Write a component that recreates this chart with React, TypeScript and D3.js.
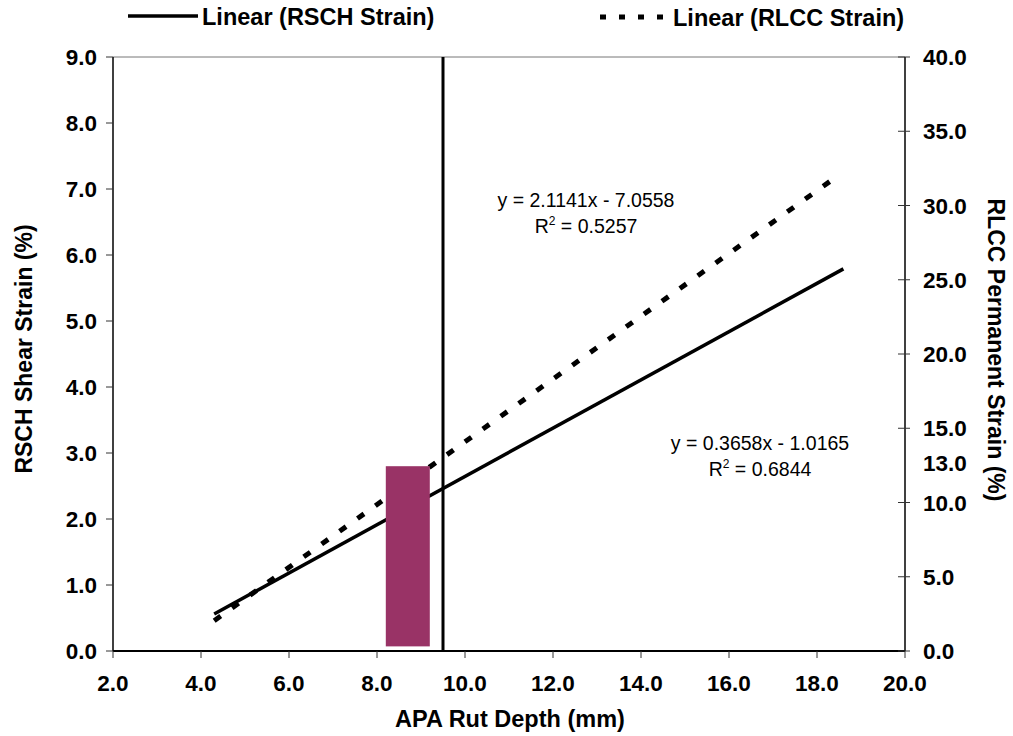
import React from "react";
import * as d3 from "d3";

const W = 1013;
const H = 736;

// Axis domains
const xDomain = [2, 20];
const leftDomain = [0, 9];
const rightDomain = [0, 40];

// Tick values
const xTicks = [2, 4, 6, 8, 10, 12, 14, 16, 18, 20];
const leftTicks = [0, 1, 2, 3, 4, 5, 6, 7, 8, 9];
const rightTicks = [0, 5, 10, 15, 20, 25, 30, 35, 40];
const rightExtraLabels = [13];

// Trend lines (endpoints)
const rschX = [4.3, 18.6];
const rschY = [0.56, 5.79];
const rlccX = [4.3, 18.35];
const rlccY = [2.04, 31.74];

// Reference marks
const vLineX = [9.5];
const barX0 = [8.2];
const barX1 = [9.2];
const barY0 = [0.07];
const barY1 = [2.8];

const eqLabels = [
  { eq: "y = 2.1141x - 7.0558", r2: "0.5257" },
  { eq: "y = 0.3658x - 1.0165", r2: "0.6844" },
];

const legendItems = ["Linear (RSCH Strain)", "Linear (RLCC Strain)"];

const PL = 113, PR = 905, PT = 57, PB = 651;

export default function App() {
  const x = d3.scaleLinear().domain(xDomain).range([PL, PR]);
  const yL = d3.scaleLinear().domain(leftDomain).range([PB, PT]);
  const yR = d3.scaleLinear().domain(rightDomain).range([PB, PT]);
  const line = d3.line<[number, number]>();

  const rschPts: [number, number][] = rschX.map((v, i) => [x(v), yL(rschY[i])]);
  const rlccPts: [number, number][] = rlccX.map((v, i) => [x(v), yR(rlccY[i])]);

  const bold = { fontFamily: "'Liberation Sans', Arial, sans-serif", fontWeight: 700 } as const;
  const reg = { fontFamily: "'Liberation Sans', Arial, sans-serif", fontWeight: 400 } as const;

  return (
    <svg
      width={W}
      height={H}
      viewBox={`0 0 ${W} ${H}`}
      style={{ position: "fixed", left: 0, top: 0, background: "#fff" }}
    >
      <rect x={0} y={0} width={W} height={H} fill="#fff" />

      {/* Legend */}
      <line x1={128} x2={198} y1={16} y2={16} stroke="#000" strokeWidth={3.5} />
      <text x={202} y={25} fontSize={23.5} {...bold}>{legendItems[0]}</text>
      <line x1={600} x2={663} y1={17} y2={17} stroke="#000" strokeWidth={5} strokeDasharray="6 13" />
      <text x={673} y={26} fontSize={23.5} {...bold}>{legendItems[1]}</text>

      {/* Plot frame top border */}
      <line x1={PL} x2={PR} y1={PT} y2={PT} stroke="#777" strokeWidth={1} />

      {/* Trend lines */}
      <path d={line(rschPts) || ""} fill="none" stroke="#000" strokeWidth={3.5} />
      <path d={line(rlccPts) || ""} fill="none" stroke="#000" strokeWidth={5} strokeDasharray="8 14" />

      {/* Bar */}
      {barX0.map((b, i) => (
        <rect
          key={i}
          x={x(b)}
          y={yL(barY1[i])}
          width={x(barX1[i]) - x(b)}
          height={yL(barY0[i]) - yL(barY1[i])}
          fill="#993366"
        />
      ))}

      {/* Vertical reference line */}
      {vLineX.map((v, i) => (
        <line key={i} x1={x(v)} x2={x(v)} y1={PT} y2={PB} stroke="#000" strokeWidth={3} />
      ))}

      {/* Axes lines */}
      <line x1={PL} x2={PL} y1={PT} y2={PB} stroke="#000" strokeWidth={1.5} />
      <line x1={PR} x2={PR} y1={PT} y2={PB} stroke="#000" strokeWidth={1.5} />
      <line x1={PL} x2={PR} y1={PB} y2={PB} stroke="#000" strokeWidth={2.2} />

      {/* X ticks */}
      {xTicks.map((t) => (
        <g key={`x${t}`}>
          <line x1={x(t)} x2={x(t)} y1={PB} y2={PB + 7} stroke="#333" strokeWidth={1} />
          <text x={x(t)} y={691} textAnchor="middle" fontSize={22.5} {...bold}>{t.toFixed(1)}</text>
        </g>
      ))}

      {/* Left ticks */}
      {leftTicks.map((t) => (
        <g key={`l${t}`}>
          <line x1={PL - 7} x2={PL} y1={yL(t)} y2={yL(t)} stroke="#333" strokeWidth={1} />
          <text x={97} y={yL(t) + 8} textAnchor="end" fontSize={22.5} {...bold}>{t.toFixed(1)}</text>
        </g>
      ))}

      {/* Right ticks */}
      {rightTicks.map((t) => (
        <g key={`r${t}`}>
          <line x1={PR - 7} x2={PR + 5} y1={yR(t)} y2={yR(t)} stroke="#333" strokeWidth={1} />
          <text x={923} y={yR(t) + 8} textAnchor="start" fontSize={22.5} {...bold}>{t.toFixed(1)}</text>
        </g>
      ))}
      {rightExtraLabels.map((t) => (
        <text key={`re${t}`} x={923} y={yR(t) + 13} textAnchor="start" fontSize={22.5} {...bold}>{t.toFixed(1)}</text>
      ))}

      {/* Equations */}
      {eqLabels.map((e, i) => {
        const cx = i === 0 ? 586 : 760;
        const by = i === 0 ? 207 : 450;
        return (
          <g key={i} fontSize={19.5} {...reg}>
            <text x={cx} y={by} textAnchor="middle">{e.eq}</text>
            <text x={cx} y={by + 26} textAnchor="middle">
              R<tspan fontSize={12} dy={-8}>2</tspan>
              <tspan dy={8}>{` = ${e.r2}`}</tspan>
            </text>
          </g>
        );
      })}

      {/* Axis titles */}
      <text x={510} y={727} textAnchor="middle" fontSize={23.5} {...bold}>APA Rut Depth (mm)</text>
      <text
        transform={`translate(32, 349) rotate(-90)`}
        textAnchor="middle"
        fontSize={23}
        {...bold}
      >
        RSCH Shear Strain (%)
      </text>
      <text
        transform={`translate(988, 350) rotate(90)`}
        textAnchor="middle"
        fontSize={23}
        {...bold}
      >
        RLCC Permanent Strain (%)
      </text>
    </svg>
  );
}
